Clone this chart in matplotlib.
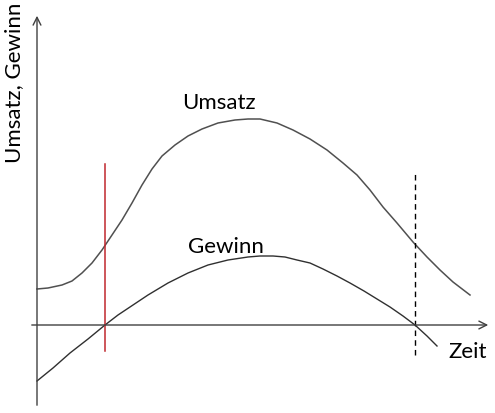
import matplotlib
matplotlib.use("Agg")
import matplotlib.pyplot as plt

plt.rcParams['font.family'] = ['Lato', 'DejaVu Sans']

# Zeit / Wert, gelesen aus dem Bild (Ursprung = Achsenkreuz)
umsatz_t = [0, 11, 25, 35, 45, 55, 65, 75, 85, 95, 105, 115, 125, 138, 151, 165, 181,
            198, 211, 223, 240, 256, 273, 290, 306, 320, 333, 346, 360, 376, 390, 403, 416, 433]
umsatz_v = [36, 37, 40, 44, 52, 62, 75, 90, 105, 122, 140, 156, 169, 180, 189, 196, 202,
            205, 206, 206, 202, 195, 186, 175, 162, 150, 135, 118, 102, 83, 68, 55, 43, 30]

gewinn_t = [0, 16, 33, 51, 68, 81, 93, 111, 131, 151, 171, 191, 211, 223, 236, 248, 260,
            273, 286, 300, 313, 327, 340, 353, 366, 378, 390, 400]
gewinn_v = [-56, -43, -28, -14, 0, 10, 18, 30, 42, 52, 60, 65, 68, 69, 69, 68, 65,
            62, 56, 49, 42, 34, 26, 18, 9, 0, -11, -21]

start_t = 68      # Gewinnschwelle
ende_t = 378      # Gewinn faellt wieder auf null

fig = plt.figure(figsize=(4.95, 4.13), dpi=100)
ax = fig.add_axes([0, 0, 1, 1])
ax.set_xlim(-37, 458)
ax.set_ylim(-88, 325)
ax.axis('off')

axis_col = '#404040'
ax.annotate('', xy=(454, 0), xytext=(-8, 0),
            arrowprops=dict(arrowstyle='->', color=axis_col, lw=1.0, mutation_scale=14))
ax.annotate('', xy=(0, 312), xytext=(0, -83),
            arrowprops=dict(arrowstyle='->', color=axis_col, lw=1.0, mutation_scale=14))

ax.plot(umsatz_t, umsatz_v, color='#505050', lw=1.1, solid_joinstyle='round')
ax.plot(gewinn_t, gewinn_v, color='#303030', lw=1.0, solid_joinstyle='round')

ax.plot([start_t, start_t], [-26, 161], color='#c0272d', lw=1.1)
ax.plot([ende_t, ende_t], [-30, 153], color='black', lw=1.0, ls=(0, (4, 3)))

ax.text(182, 222, 'Umsatz', fontsize=16, ha='center', va='center')
ax.text(189, 78, 'Gewinn', fontsize=16, ha='center', va='center')
ax.text(431, -27, 'Zeit', fontsize=16, ha='center', va='center')
ax.text(-23, 242, 'Umsatz, Gewinn', fontsize=16, ha='center', va='center', rotation=90)

fig.savefig('out.png', dpi=100)
